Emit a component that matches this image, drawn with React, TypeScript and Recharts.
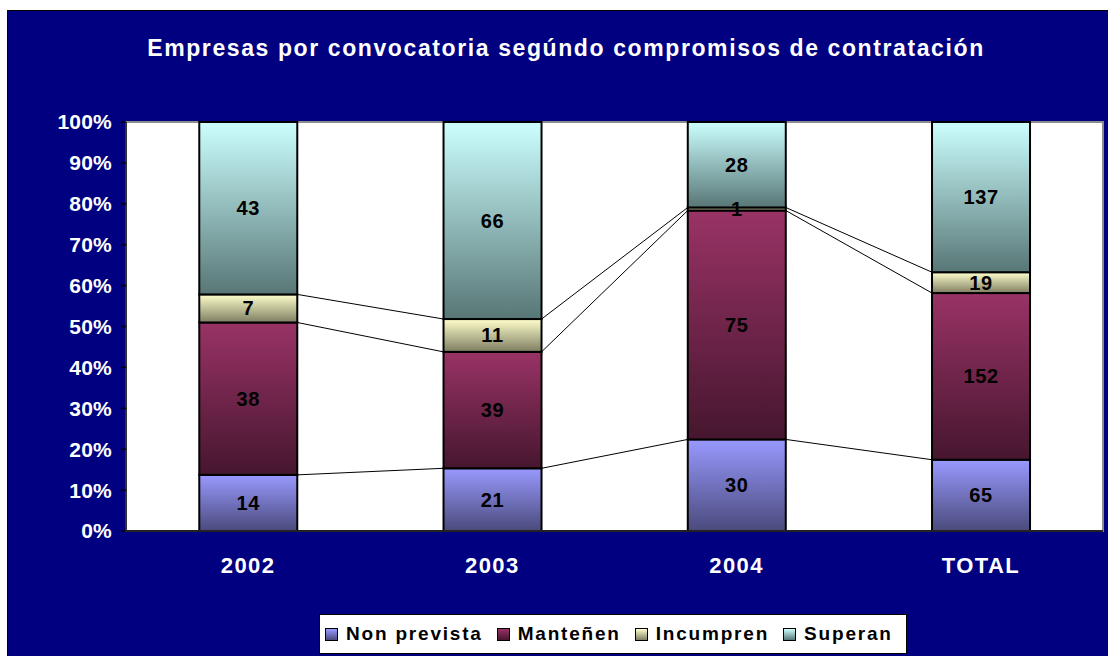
import { BarChart, Bar, XAxis, YAxis, CartesianGrid, LabelList, ReferenceArea } from 'recharts'

const categories = ['2002', '2003', '2004', 'TOTAL']
const nonPrevista = [14, 21, 30, 65]
const mantenen = [38, 39, 75, 152]
const incumpren = [7, 11, 1, 19]
const superan = [43, 66, 28, 137]
const yTicks = [0, 0.1, 0.2, 0.3, 0.4, 0.5, 0.6, 0.7, 0.8, 0.9, 1]

const SERIES = [
  { key: 'np', name: 'Non prevista', values: nonPrevista, top: '#9999ff', bottom: '#4a4a7c' },
  { key: 'ma', name: 'Manteñen', values: mantenen, top: '#993366', bottom: '#46162e' },
  { key: 'in', name: 'Incumpren', values: incumpren, top: '#ffffcc', bottom: '#7e7e62' },
  { key: 'su', name: 'Superan', values: superan, top: '#ccffff', bottom: '#587676' },
]

const data = categories.map((cat, i) => {
  const row: Record<string, string | number> = { cat }
  SERIES.forEach((s) => (row[s.key] = s.values[i]))
  return row
})

const FONT = 'Arial, "Liberation Sans", sans-serif'
const NAVY = '#000080'

// extremo derecho de la barra anterior, para las líneas de serie
const prevTop: Record<string, { x: number; y: number } | undefined> = {}

function barShape(key: string, seriesLine: boolean) {
  return (props: any) => {
    const { x, y, width, height, index } = props
    let line = null
    if (seriesLine) {
      const prev = index > 0 ? prevTop[key] : undefined
      if (prev) line = <line x1={prev.x} y1={prev.y} x2={x} y2={y} stroke="#000" strokeWidth={1} />
      prevTop[key] = { x: x + width, y }
    }
    return (
      <g>
        {line}
        <rect x={x} y={y} width={width} height={height} fill={`url(#grad-${key})`} stroke="#000" strokeWidth={2} />
      </g>
    )
  }
}

const renderLabel = (p: any) => (
  <text
    x={p.x + p.width / 2}
    y={p.y + p.height / 2}
    textAnchor="middle"
    dominantBaseline="central"
    fill="#000"
    fontFamily={FONT}
    fontWeight="bold"
    fontSize={20}
    letterSpacing={0.6}
  >
    {p.value}
  </text>
)

export default function App() {
  return (
    <div
      style={{
        position: 'absolute',
        left: 7,
        top: 10,
        width: 1101,
        height: 646,
        background: NAVY,
        borderLeft: '1px solid #000',
        borderTop: '1px solid #000',
        boxSizing: 'border-box',
        fontFamily: FONT,
      }}
    >
      <svg width={0} height={0} style={{ position: 'absolute' }}>
        <defs>
          {SERIES.map((s) => (
            <linearGradient key={s.key} id={`grad-${s.key}`} x1="0" y1="0" x2="0" y2="1">
              <stop offset="0%" stopColor={s.top} />
              <stop offset="100%" stopColor={s.bottom} />
            </linearGradient>
          ))}
        </defs>
      </svg>

      <div
        style={{
          position: 'absolute',
          left: 558,
          top: 26,
          transform: 'translateX(-50%)',
          whiteSpace: 'nowrap',
          color: '#fff',
          fontWeight: 'bold',
          fontSize: 23,
          lineHeight: '23px',
          letterSpacing: 1.6,
        }}
      >
        Empresas por convocatoria segúndo compromisos de contratación
      </div>

      <BarChart
        width={1100}
        height={645}
        data={data}
        stackOffset="expand"
        barCategoryGap="30%"
        margin={{ top: 111, right: 5, bottom: 0, left: 0 }}
      >
        <CartesianGrid fill="#fff" horizontal={false} vertical={false} />
        <XAxis
          xAxisId="edge"
          type="number"
          domain={[0, categories.length]}
          ticks={[0, 1, 2, 3, 4]}
          tick={false}
          axisLine={false}
          tickSize={6}
          tickLine={{ stroke: '#000', strokeWidth: 1.5 }}
          height={0}
        />
        <XAxis
          xAxisId="cat"
          dataKey="cat"
          height={125}
          tickLine={false}
          tickSize={0}
          tickMargin={26}
          axisLine={{ stroke: '#222', strokeWidth: 2 }}
          tick={{ fill: '#fff', fontSize: 22, fontWeight: 'bold', fontFamily: FONT, letterSpacing: 1.4 }}
        />
        <YAxis
          ticks={yTicks}
          domain={[0, 1]}
          width={118}
          interval={0}
          tickFormatter={(v: number) => `${Math.round(v * 100)}%`}
          tickSize={5}
          tickMargin={9}
          tickLine={{ stroke: '#000', strokeWidth: 1.5 }}
          axisLine={{ stroke: '#333', strokeWidth: 2 }}
          tick={{ fill: '#fff', fontSize: 21, fontWeight: 'bold', fontFamily: FONT, letterSpacing: 0.2 }}
        />
        <ReferenceArea xAxisId="cat" x1="2002" x2="TOTAL" y1={0} y2={1} fill="none" stroke="#8c8c8c" strokeWidth={2} />
        {SERIES.map((s, i) => (
          <Bar
            key={s.key}
            xAxisId="cat"
            dataKey={s.key}
            name={s.name}
            stackId="a"
            isAnimationActive={false}
            shape={barShape(s.key, i < SERIES.length - 1)}
          >
            <LabelList dataKey={s.key} content={renderLabel} />
          </Bar>
        ))}
      </BarChart>

      <div
        style={{
          position: 'absolute',
          left: 311,
          top: 603,
          width: 588,
          height: 40,
          background: '#fff',
          border: '1px solid #000',
          boxSizing: 'border-box',
          display: 'flex',
          alignItems: 'center',
          paddingLeft: 5,
          fontWeight: 'bold',
          fontSize: 19,
          letterSpacing: 1.8,
          color: '#000',
          whiteSpace: 'nowrap',
        }}
      >
        {SERIES.map((s) => (
          <span key={s.key} style={{ display: 'inline-flex', alignItems: 'center', marginRight: 14 }}>
            <span
              style={{
                width: 11,
                height: 11,
                border: '1px solid #000',
                background: `linear-gradient(${s.top}, ${s.bottom})`,
                marginRight: 8,
                display: 'inline-block',
              }}
            />
            {s.name}
          </span>
        ))}
      </div>
    </div>
  )
}
